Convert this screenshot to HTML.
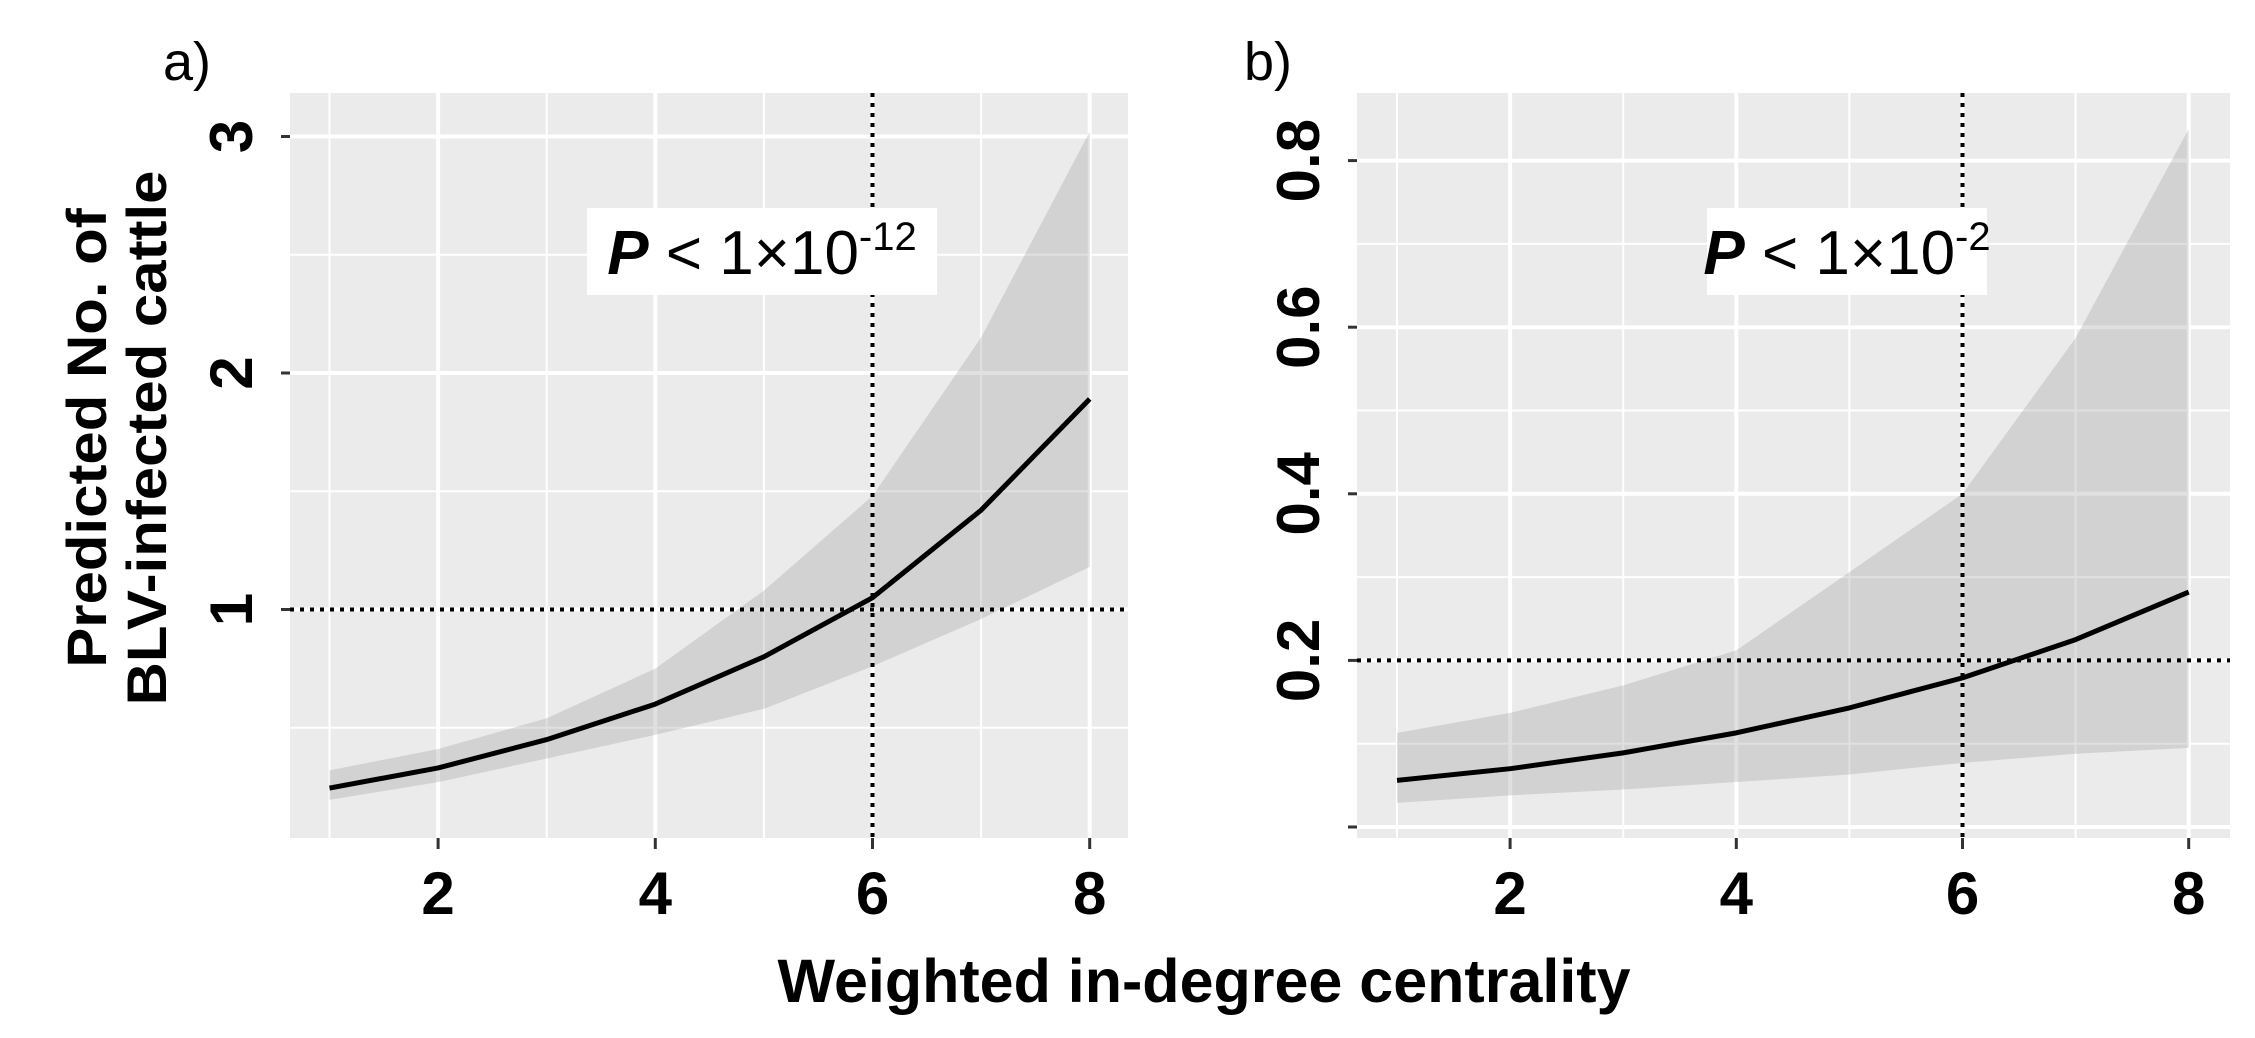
<!DOCTYPE html>
<html><head><meta charset="utf-8"><style>
html,body{margin:0;padding:0;background:#fff;}
svg{display:block;font-family:"Liberation Sans",Arial,sans-serif;}
</style></head><body>
<svg id="chart" width="2255" height="1038" viewBox="0 0 2255 1038"></svg>
<script>
const xCats = [1,2,3,4,5,6,7,8];
const aFit = [0.245,0.33,0.45,0.60,0.80,1.05,1.42,1.89];
const aUpper = [0.32,0.41,0.54,0.75,1.08,1.48,2.15,3.02];
const aLower = [0.195,0.27,0.37,0.47,0.58,0.76,0.96,1.18];
const bFit = [0.056,0.07,0.089,0.113,0.143,0.179,0.225,0.282];
const bUpper = [0.113,0.137,0.17,0.212,0.306,0.40,0.587,0.838];
const bLower = [0.029,0.038,0.045,0.054,0.063,0.077,0.088,0.095];
const xTicks = [2,4,6,8];
const aYTicks = [1,2,3];
const aYTickLabels = ["1","2","3"];
const aYMinor = [0.5,1.5,2.5];
const bYTicks = [0,0.2,0.4,0.6,0.8];
const bYTickLabels = ["","0.2","0.4","0.6","0.8"];
const bYMinor = [0.1,0.3,0.5,0.7];
const xMinor = [1,3,5,7];
const aRef = {x:6, y:1};
const bRef = {x:6, y:0.2};

const NS = "http://www.w3.org/2000/svg";
const svg = document.getElementById('chart');
function mk(tag, attrs, parent){
  const e = document.createElementNS(NS, tag);
  for (const k in attrs) e.setAttribute(k, attrs[k]);
  (parent||svg).appendChild(e);
  return e;
}

function panel(cfg){
  const g = mk('g', {});
  
  
  const L=cfg.left,R=cfg.right,T=93,B=838;
  const xs = v => cfg.x1 + (v-1)*cfg.xu;
  const ys = v => cfg.y0 - v*cfg.yu;
  const bg = mk('rect',{x:L,y:T,width:R-L,height:B-T,fill:'#ebebeb'},g);
  
  
  cfg.yMinor.forEach(v=>{ mk('line',{x1:L,x2:R,y1:ys(v),y2:ys(v),stroke:'#fff','stroke-width':2},g); });
  xMinor.forEach(v=>{ mk('line',{x1:xs(v),x2:xs(v),y1:T,y2:B,stroke:'#fff','stroke-width':2},g); });
  cfg.yTicks.forEach(v=>{ mk('line',{x1:L,x2:R,y1:ys(v),y2:ys(v),stroke:'#fff','stroke-width':4},g); });
  xTicks.forEach(v=>{ mk('line',{x1:xs(v),x2:xs(v),y1:T,y2:B,stroke:'#fff','stroke-width':4},g); });
  let d='';
  xCats.forEach((x,i)=>{ d += (i?'L':'M')+xs(x)+','+ys(cfg.upper[i]); });
  for(let i=xCats.length-1;i>=0;i--) d += 'L'+xs(xCats[i])+','+ys(cfg.lower[i]);
  const rib = mk('path',{d:d+'Z',fill:'#999',opacity:0.3},g);
  
  
  const hv = mk('line',{x1:L,x2:R,y1:ys(cfg.ref.y),y2:ys(cfg.ref.y),stroke:'#000','stroke-width':4,'stroke-dasharray':'4 6'},g);
  
  
  const vv = mk('line',{x1:xs(cfg.ref.x),x2:xs(cfg.ref.x),y1:T,y2:B,stroke:'#000','stroke-width':4,'stroke-dasharray':'4 6'},g);
  
  
  let p='';
  xCats.forEach((x,i)=>{ p += (i?'L':'M')+xs(x)+','+ys(cfg.fit[i]); });
  const fl = mk('path',{d:p,fill:'none',stroke:'#000','stroke-width':5,'stroke-linejoin':'round'},g);
  
  
  const ab = mk('rect',{x:cfg.box[0],y:208,width:cfg.box[1],height:87,fill:'#fff'},g);
  
  
  const at = mk('text',{x:cfg.box[0]+cfg.box[1]/2,y:274,'text-anchor':'middle','font-size':62,fill:'#000'},g);
  
  
  at.innerHTML = '<tspan font-style="italic" font-weight="bold">P</tspan> &lt; 1×10<tspan font-size="40" dy="-24">'+cfg.exp+'</tspan>';
  xTicks.forEach(v=>{
    mk('line',{x1:xs(v),x2:xs(v),y1:B,y2:B+11,stroke:'#333','stroke-width':3},g);
    const t = mk('text',{x:xs(v),y:914,'text-anchor':'middle','font-size':60,'font-weight':'bold',fill:'#000'},g);
    
    
    t.textContent = v;
  });
  cfg.yTicks.forEach((v,i)=>{
    mk('line',{x1:L-9,x2:L,y1:ys(v),y2:ys(v),stroke:'#333','stroke-width':3},g);
    const tx = L-38, ty = ys(v);
    const t = mk('text',{x:tx,y:ty,'text-anchor':'middle','font-size':60,'font-weight':'bold',fill:'#000',transform:'rotate(-90 '+tx+' '+ty+')'},g);
    
    
    t.textContent = cfg.yLabels[i];
  });
  const pl = mk('text',{x:cfg.tagX,y:80,'font-size':54,fill:'#000'},g);
  
  
  pl.textContent = cfg.tag;
}

panel({name:'panel-a',left:290,right:1128,x1:329.5,xu:108.6,y0:846,yu:236.5,
  yTicks:aYTicks,yLabels:aYTickLabels,yMinor:aYMinor,fit:aFit,upper:aUpper,lower:aLower,
  ref:aRef,box:[587,350],exp:'-12',tag:'a)',tagX:163});
panel({name:'panel-b',left:1357,right:2230,x1:1397,xu:113.1,y0:827,yu:833,
  yTicks:bYTicks,yLabels:bYTickLabels,yMinor:bYMinor,fit:bFit,upper:bUpper,lower:bLower,
  ref:bRef,box:[1707,280],exp:'-2',tag:'b)',tagX:1244});

const yt = mk('text',{x:0,y:0,'text-anchor':'middle','font-size':56,'font-weight':'bold',fill:'#000',transform:'translate(106 438) rotate(-90) scale(1.07,1)'});


yt.innerHTML = '<tspan x="0" dy="0">Predicted No. of</tspan><tspan x="0" dy="60">BLV-infected cattle</tspan>';
const xt = mk('text',{x:1204,y:1002,'text-anchor':'middle','font-size':61,'font-weight':'bold',fill:'#000'});


xt.textContent = 'Weighted in-degree centrality';
</script>
</body></html>
